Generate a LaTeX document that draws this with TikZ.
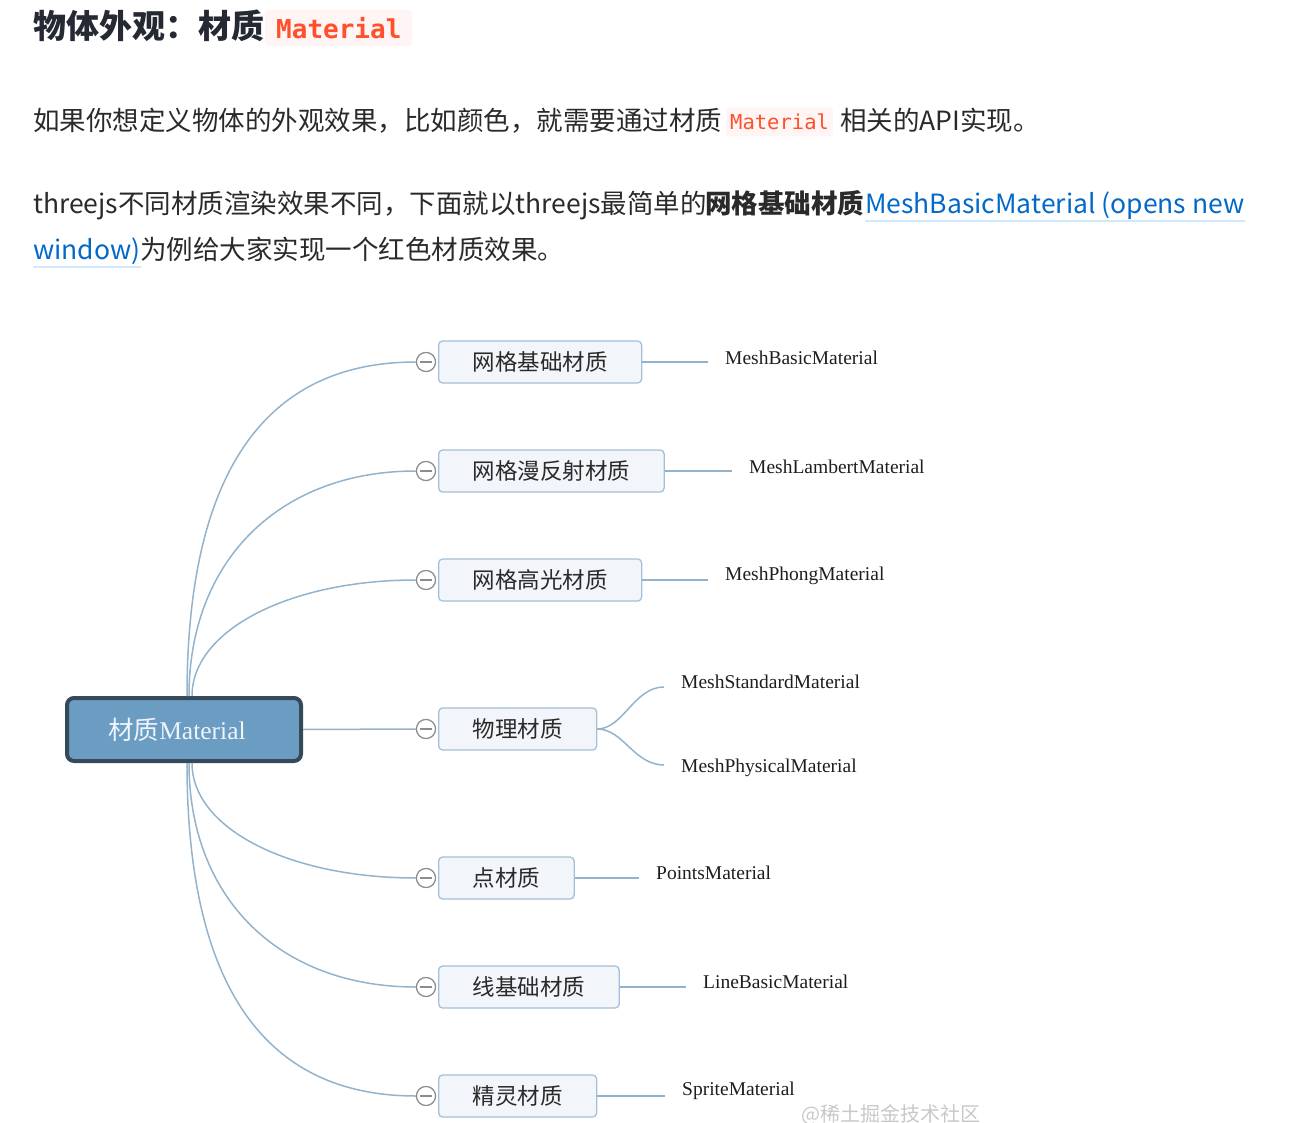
\documentclass[tikz,border=0pt]{standalone}
\usepackage{fontspec}
\setmainfont{Noto Sans CJK SC}
\newfontfamily\cjk{Noto Sans CJK SC}
\newfontfamily\codefont{DejaVu Sans Mono}
\newfontfamily\tnr{Liberation Serif}
\definecolor{txtdark}{HTML}{252933}
\definecolor{bodytxt}{HTML}{2A2A2A}
\definecolor{codered}{HTML}{FF502C}
\definecolor{codebg}{HTML}{FFF5F5}
\definecolor{linkblue}{HTML}{0269C8}
\definecolor{linkline}{HTML}{D1E9FF}
\definecolor{branchc}{HTML}{93B3CC}
\definecolor{boxborder}{HTML}{A3C0D8}
\definecolor{boxfill}{HTML}{F2F6FA}
\definecolor{rootfill}{HTML}{6B9DC3}
\definecolor{rootborder}{HTML}{36495A}
\definecolor{roottext}{HTML}{EEF4FA}
\definecolor{circc}{HTML}{8C8C8C}
\definecolor{labeltxt}{HTML}{1E1E1E}
\definecolor{wmark}{HTML}{C8C8C8}
\tikzset{
  bodytext/.style={anchor=base west, inner sep=0pt, text=bodytxt, font=\cjk\fontsize{26.5}{30}\selectfont},
  codebox/.style={fill=codebg, rounded corners=3pt, text=codered, inner xsep=4pt, inner ysep=0pt},
  childbox/.style={draw=boxborder, fill=boxfill, rounded corners=4pt, line width=1.3pt,
    minimum height=42pt, inner xsep=34pt, inner ysep=0pt, anchor=west, text=bodytxt,
    font=\cjk\fontsize{22.5}{26}\selectfont},
  rootbox/.style={draw=rootborder, fill=rootfill, rounded corners=7pt, line width=4pt,
    minimum width=234pt, minimum height=63pt, text=roottext, font=\fontsize{25.5}{28}\selectfont},
  minuscirc/.style={circle, draw=circc, fill=white, line width=1.1pt, minimum size=19pt, inner sep=0pt},
  branch/.style={draw=branchc, line width=1.5pt},
  leaflabel/.style={anchor=west, inner xsep=17pt, inner ysep=0pt, text=labeltxt, font=\tnr\fontsize{19.5}{22}\selectfont},
}
\begin{document}
\begin{tikzpicture}[x=1pt,y=-1pt]
\useasboundingbox (0,0) rectangle (1315,1123);
% ---- text header
\node[anchor=base west, inner sep=0pt, text=txtdark, font=\cjk\bfseries\fontsize{33}{36}\selectfont] (title) at (33,39) {物体外观：材质};
\node[codebox, anchor=west, inner xsep=11pt, minimum height=36pt, font=\codefont\bfseries\fontsize{26}{28}\selectfont] (tcode) at (265,28) {Material};

\node[bodytext] (l2a) at (33,131) {如果你想定义物体的外观效果，比如颜色，就需要通过材质};
\node[codebox, anchor=west, minimum height=29pt, font=\codefont\fontsize{20.5}{24}\selectfont] (l2b) at (726,122) {Material};
\node[bodytext] (l2c) at (840,131) {相关的API实现。};

\node[bodytext] (l3a) at (33,214) {threejs不同材质渲染效果不同，下面就以threejs最简单的};
\node[bodytext, font=\cjk\bfseries\fontsize{26.5}{30}\selectfont] (l3b) at (705,214) {网格基础材质};
\node[bodytext, text=linkblue] (l3c) at (865,214) {MeshBasicMaterial (opens new};
\draw[linkline, line width=1.2pt] ([yshift=-7pt]l3c.base west) -- ([yshift=-7pt]l3c.base east);
\node[bodytext, text=linkblue] (l4a) at (33,260) {window)};
\draw[linkline, line width=1.2pt] ([yshift=-7pt]l4a.base west) -- ([yshift=-7pt]l4a.base east);
\node[bodytext] (l4b) at (140,260) {为例给大家实现一个红色材质效果。};

% ---- mind map
\node[rootbox] (root) at (184,729.5) {材质{\tnr Material}\kern14pt};

\node[childbox] (b1) at (438,362) {网格基础材质};
\node[childbox] (b2) at (438,471) {网格漫反射材质};
\node[childbox] (b3) at (438,580) {网格高光材质};
\node[childbox] (b4) at (438,729) {物理材质};
\node[childbox] (b5) at (438,878) {点材质};
\node[childbox] (b6) at (438,987) {线基础材质};
\node[childbox] (b7) at (438,1096) {精灵材质};

\foreach \i/\y in {1/362,2/471,3/580,4/729,5/878,6/987,7/1096}{
  \node[minuscirc] (c\i) at (426,\y) {};
}

% branches from root
\draw[branch] ([xshift=3pt]root.north) .. controls +(0,-216) and +(-156,0) .. (c1.west);
\draw[branch] ([xshift=5pt]root.north) .. controls +(0,-136) and +(-136,0) .. (c2.west);
\draw[branch] ([xshift=8pt]root.north) .. controls +(0,-66) and +(-126,0) .. (c3.west);
\draw[branch] (root.east) -- (c4.west);
\draw[branch] ([xshift=8pt]root.south) .. controls +(0,66) and +(-126,0) .. (c5.west);
\draw[branch] ([xshift=5pt]root.south) .. controls +(0,136) and +(-136,0) .. (c6.west);
\draw[branch] ([xshift=3pt]root.south) .. controls +(0,216) and +(-156,0) .. (c7.west);

% circles on top of branch ends
\foreach \i in {1,...,7}{
  \node[minuscirc] at (c\i) {};
  \draw[circc, line width=1.1pt] ([xshift=-6pt]c\i.center) -- ([xshift=6pt]c\i.center);
}

% leaves
\node[leaflabel] (m1) at (708,358) {MeshBasicMaterial};
\node[leaflabel] (m2) at (732,467) {MeshLambertMaterial};
\node[leaflabel] (m3) at (708,576) {MeshPhongMaterial};
\node[leaflabel] (m4a) at (664,682) {MeshStandardMaterial};
\node[leaflabel] (m4b) at (664,768) {MeshPhysicalMaterial};
\node[leaflabel] (m5) at (639,873) {PointsMaterial};
\node[leaflabel] (m6) at (686,982) {LineBasicMaterial};
\node[leaflabel] (m7) at (665,1091) {SpriteMaterial};

\draw[branch] (b1.east) -- (b1.east -| m1.west);
\draw[branch] (b2.east) -- (b2.east -| m2.west);
\draw[branch] (b3.east) -- (b3.east -| m3.west);
\draw[branch] (b4.east) .. controls +(26,0) and +(-30,0) .. ([yshift=-5pt]m4a.west);
\draw[branch] (b4.east) .. controls +(26,0) and +(-30,0) .. ([yshift=3pt]m4b.west);
\draw[branch] (b5.east) -- (b5.east -| m5.west);
\draw[branch] (b6.east) -- (b6.east -| m6.west);
\draw[branch] (b7.east) -- (b7.east -| m7.west);

\node[text=wmark, inner sep=0pt, font=\cjk\fontsize{20}{22}\selectfont] (wm) at (891,1115) {@稀土掘金技术社区};
\end{tikzpicture}
\end{document}
